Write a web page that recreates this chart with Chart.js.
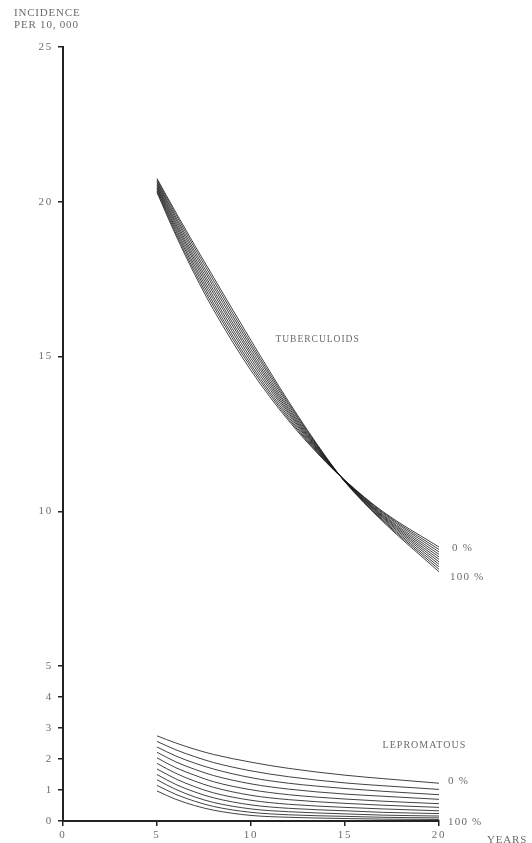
<!DOCTYPE html>
<html>
<head>
<meta charset="utf-8">
<script src="https://cdn.jsdelivr.net/npm/chart.js@4/dist/chart.umd.min.js"></script>
<style>
  html, body { margin: 0; padding: 0; background: #fff; }
  #wrap { width: 532px; height: 843px; position: relative; }
</style>
</head>
<body>
<div id="wrap"><canvas id="chart" width="532" height="843"></canvas></div>
<script>
// Years at which each curve is sampled
const tubYears = [5, 6, 7, 8, 10, 12, 14, 15, 17, 20];
const lepYears = [5, 6, 7, 8, 10, 12, 15, 17, 20];

// Tuberculoid incidence per 10,000, one row per coverage level (0 % ... 100 %)
const tub0   = [20.30, 18.92, 17.66, 16.52, 14.55, 12.93, 11.58, 11.00, 10.00, 8.85];
const tub10  = [20.35, 18.99, 17.75, 16.63, 14.65, 12.99, 11.60, 11.00, 9.97, 8.77];
const tub20  = [20.39, 19.07, 17.85, 16.73, 14.74, 13.05, 11.61, 10.99, 9.94, 8.69];
const tub30  = [20.44, 19.14, 17.94, 16.84, 14.84, 13.12, 11.63, 10.99, 9.90, 8.61];
const tub40  = [20.48, 19.22, 18.04, 16.94, 14.94, 13.18, 11.65, 10.98, 9.87, 8.53];
const tub50  = [20.53, 19.29, 18.13, 17.05, 15.04, 13.24, 11.67, 10.98, 9.84, 8.45];
const tub60  = [20.57, 19.36, 18.22, 17.15, 15.13, 13.30, 11.68, 10.97, 9.81, 8.37];
const tub70  = [20.62, 19.44, 18.32, 17.26, 15.23, 13.36, 11.70, 10.97, 9.78, 8.29];
const tub80  = [20.66, 19.51, 18.41, 17.36, 15.33, 13.43, 11.72, 10.96, 9.74, 8.21];
const tub90  = [20.71, 19.59, 18.51, 17.47, 15.42, 13.49, 11.73, 10.96, 9.71, 8.13];
const tub100 = [20.75, 19.66, 18.60, 17.57, 15.52, 13.55, 11.75, 10.95, 9.68, 8.05];

// Lepromatous incidence per 10,000, same coverage levels
const lep0   = [2.75, 2.52, 2.32, 2.15, 1.90, 1.70, 1.48, 1.37, 1.22];
const lep10  = [2.57, 2.30, 2.08, 1.89, 1.62, 1.43, 1.23, 1.14, 1.02];
const lep20  = [2.39, 2.10, 1.87, 1.68, 1.40, 1.22, 1.05, 0.96, 0.85];
const lep30  = [2.22, 1.91, 1.67, 1.47, 1.20, 1.03, 0.87, 0.80, 0.70];
const lep40  = [2.04, 1.72, 1.48, 1.27, 1.01, 0.85, 0.71, 0.64, 0.56];
const lep50  = [1.86, 1.54, 1.29, 1.09, 0.83, 0.69, 0.57, 0.51, 0.44];
const lep60  = [1.68, 1.36, 1.11, 0.91, 0.67, 0.54, 0.44, 0.39, 0.33];
const lep70  = [1.50, 1.18, 0.94, 0.75, 0.52, 0.41, 0.33, 0.28, 0.24];
const lep80  = [1.33, 1.02, 0.78, 0.60, 0.39, 0.30, 0.23, 0.19, 0.16];
const lep90  = [1.15, 0.86, 0.64, 0.47, 0.28, 0.20, 0.15, 0.12, 0.10];
const lep100 = [0.97, 0.70, 0.50, 0.35, 0.18, 0.12, 0.08, 0.06, 0.05];

const coverageLabels = ['0 %', '10 %', '20 %', '30 %', '40 %', '50 %', '60 %', '70 %', '80 %', '90 %', '100 %'];
const tubSeries = [tub0, tub10, tub20, tub30, tub40, tub50, tub60, tub70, tub80, tub90, tub100];
const lepSeries = [lep0, lep10, lep20, lep30, lep40, lep50, lep60, lep70, lep80, lep90, lep100];

// Axis ticks and captions
const yTickValues = [0, 1, 2, 3, 4, 5, 10, 15, 20, 25];
const xTickValues = [0, 5, 10, 15, 20];
const yTitleLines = ['INCIDENCE', 'PER 10, 000'];
const xTitle = 'YEARS';
const groupNames = ['TUBERCULOIDS', 'LEPROMATOUS'];

const SERIF = '"Liberation Serif", "DejaVu Serif", serif';
const TEXT_GREY = '#6b6b6b';
const INK = 'rgba(25,25,25,0.82)';

function toPoints(xs, ys) { return xs.map((x, i) => ({ x: x, y: ys[i] })); }

const datasets = [];
tubSeries.forEach((s, i) => datasets.push({
  label: 'Tuberculoids ' + coverageLabels[i],
  data: toPoints(tubYears, s)
}));
lepSeries.forEach((s, i) => datasets.push({
  label: 'Lepromatous ' + coverageLabels[i],
  data: toPoints(lepYears, s)
}));
datasets.forEach(d => Object.assign(d, {
  borderColor: INK, borderWidth: 1, pointRadius: 0, fill: false,
  cubicInterpolationMode: 'monotone'
}));

// Captions, group names and end-of-curve coverage labels
const annotations = {
  id: 'annotations',
  beforeDraw(chart) { chart.ctx.letterSpacing = '1.8px'; },
  afterDraw(chart) {
    const ctx = chart.ctx;
    const xs = chart.scales.x, ys = chart.scales.y;
    ctx.save();
    ctx.fillStyle = TEXT_GREY;
    ctx.textBaseline = 'middle';
    ctx.textAlign = 'left';
    ctx.letterSpacing = '0.8px';
    ctx.font = '11px ' + SERIF;
    ctx.fillText(yTitleLines[0], 14, 13);
    ctx.fillText(yTitleLines[1], 14, 25);
    ctx.fillText(xTitle, 487, 840);

    ctx.letterSpacing = '1px';
    ctx.font = '9.5px ' + SERIF;
    ctx.fillText(groupNames[0], xs.getPixelForValue(11.3), ys.getPixelForValue(15.55));
    ctx.font = '10px ' + SERIF;
    ctx.fillText(groupNames[1], xs.getPixelForValue(17.0), ys.getPixelForValue(2.45));

    // coverage labels at the right end of the first and last curve of each group
    ctx.font = '11px ' + SERIF;
    ctx.letterSpacing = '1.2px';
    const endLabel = (series, years, text, dx, dy) => {
      const n = years.length - 1;
      ctx.fillText(text, xs.getPixelForValue(years[n]) + dx, ys.getPixelForValue(series[n]) + dy);
    };
    endLabel(tub0, tubYears, coverageLabels[0], 13, 1);
    endLabel(tub100, tubYears, coverageLabels[10], 11, 5);
    endLabel(lep0, lepYears, coverageLabels[0], 9, -2);
    endLabel(lep100, lepYears, coverageLabels[10], 9, 3);
    ctx.restore();
  }
};

new Chart(document.getElementById('chart'), {
  type: 'line',
  data: { datasets: datasets },
  options: {
    responsive: false,
    animation: false,
    events: [],
    layout: { padding: { top: 47, right: 93, bottom: 0, left: 0 } },
    plugins: { legend: { display: false }, tooltip: { enabled: false }, title: { display: false } },
    scales: {
      x: {
        type: 'linear', min: 0, max: 20,
        afterFit(scale) { scale.height = 22; },
        afterBuildTicks(scale) { scale.ticks = xTickValues.map(v => ({ value: v })); },
        border: { display: true, color: '#222', width: 2 },
        grid: { drawOnChartArea: false, drawTicks: true, tickLength: 5, color: '#222', lineWidth: 1.5 },
        ticks: { color: TEXT_GREY, font: { family: SERIF, size: 11 }, padding: 3, maxRotation: 0,
                 callback: v => String(v) }
      },
      y: {
        type: 'linear', min: 0, max: 25,
        afterFit(scale) { scale.width = 63; },
        afterBuildTicks(scale) { scale.ticks = yTickValues.map(v => ({ value: v })); },
        border: { display: true, color: '#222', width: 2 },
        grid: { drawOnChartArea: false, drawTicks: true, tickLength: 5, color: '#222', lineWidth: 1.5 },
        ticks: { color: TEXT_GREY, font: { family: SERIF, size: 11 }, padding: 5,
                 callback: v => String(v) }
      }
    }
  },
  plugins: [annotations]
});
</script>
</body>
</html>
